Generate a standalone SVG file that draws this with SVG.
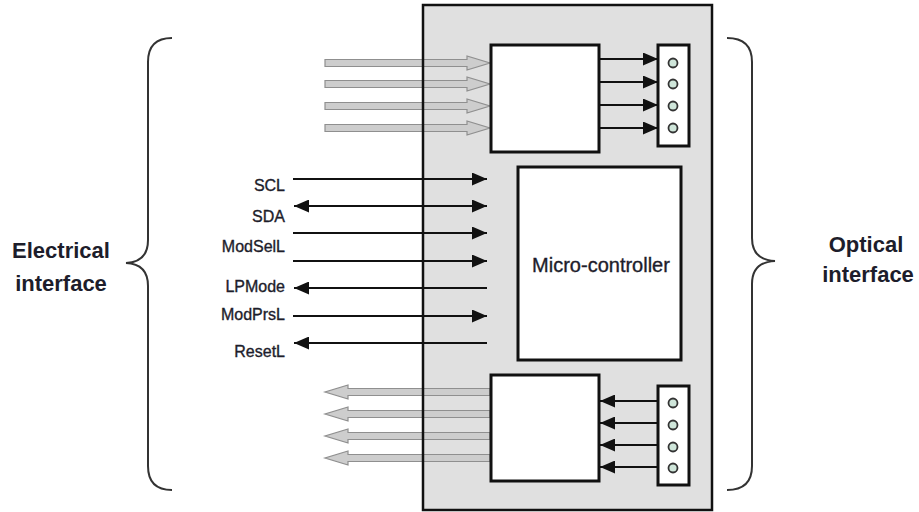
<svg xmlns="http://www.w3.org/2000/svg" width="919" height="512" viewBox="0 0 919 512">
<style>
.box{fill:#fff;stroke:#111;stroke-width:3}
.wire{stroke:#111;stroke-width:2;fill:none}
.garrow{fill:#cdcdcd;stroke:#8f8f8f;stroke-width:1.2}
.port{fill:#cfe6da;stroke:#333;stroke-width:1.8}
.sig{font-family:"Liberation Sans",Arial,sans-serif;font-size:16px;fill:#1d1d2b;stroke:#1d1d2b;stroke-width:0.35;text-anchor:end}
.big{font-family:"Liberation Sans",Arial,sans-serif;font-size:22px;font-weight:bold;fill:#1d1d2b;text-anchor:middle}
.brace{fill:none;stroke:#333;stroke-width:2}
</style>
<defs>
<marker id="ah" viewBox="0 0 15 13" refX="15" refY="6.5" markerWidth="15" markerHeight="13" markerUnits="userSpaceOnUse" orient="auto-start-reverse">
<path d="M0,0 L15,6.5 L0,13 Z" fill="#111"/>
</marker>
</defs>
<rect id="module-bg" x="423" y="5" width="289" height="505" fill="#e0e0e0"/>
<g id="connectors">
<polygon class="garrow" points="325,59.5 467,59.5 467,56 490,63 467,70 467,66.5 325,66.5"/>
<polygon class="garrow" points="325,80.5 467,80.5 467,77 490,84 467,91 467,87.5 325,87.5"/>
<polygon class="garrow" points="325,102.5 467,102.5 467,99 490,106 467,113 467,109.5 325,109.5"/>
<polygon class="garrow" points="325,124.5 467,124.5 467,121 490,128 467,135 467,131.5 325,131.5"/>
<polygon class="garrow" points="490,388.5 348,388.5 348,385 325,392 348,399 348,395.5 490,395.5"/>
<polygon class="garrow" points="490,410.5 348,410.5 348,407 325,414 348,421 348,417.5 490,417.5"/>
<polygon class="garrow" points="490,432.5 348,432.5 348,429 325,436 348,443 348,439.5 490,439.5"/>
<polygon class="garrow" points="490,454.5 348,454.5 348,451 325,458 348,465 348,461.5 490,461.5"/>
<line class="wire" x1="599" y1="59" x2="658" y2="59" marker-end="url(#ah)"/>
<line class="wire" x1="599" y1="82" x2="658" y2="82" marker-end="url(#ah)"/>
<line class="wire" x1="599" y1="105" x2="658" y2="105" marker-end="url(#ah)"/>
<line class="wire" x1="599" y1="128" x2="658" y2="128" marker-end="url(#ah)"/>
<line class="wire" x1="658" y1="401" x2="600" y2="401" marker-end="url(#ah)"/>
<line class="wire" x1="658" y1="423" x2="600" y2="423" marker-end="url(#ah)"/>
<line class="wire" x1="658" y1="445" x2="600" y2="445" marker-end="url(#ah)"/>
<line class="wire" x1="658" y1="467" x2="600" y2="467" marker-end="url(#ah)"/>
<line class="wire" x1="293" y1="179" x2="487" y2="179" marker-end="url(#ah)"/>
<line class="wire" x1="294" y1="206" x2="487" y2="206" marker-start="url(#ah)" marker-end="url(#ah)"/>
<line class="wire" x1="293" y1="233" x2="487" y2="233" marker-end="url(#ah)"/>
<line class="wire" x1="293" y1="261" x2="487" y2="261" marker-end="url(#ah)"/>
<line class="wire" x1="294" y1="288" x2="487" y2="288" marker-start="url(#ah)"/>
<line class="wire" x1="293" y1="316" x2="487" y2="316" marker-end="url(#ah)"/>
<line class="wire" x1="294" y1="343" x2="487" y2="343" marker-start="url(#ah)"/>
</g>
<g id="module">
<rect x="423" y="5" width="289" height="505" fill="none" stroke="#111" stroke-width="2.5"/>
</g>
<g id="tx-block"><rect class="box" x="491" y="45" width="108" height="107"/></g>
<g id="tx-port">
<rect class="box" x="658" y="45" width="31" height="101"/>
<circle class="port" cx="673" cy="63" r="4.5"/>
<circle class="port" cx="673" cy="84" r="4.5"/>
<circle class="port" cx="673" cy="106" r="4.5"/>
<circle class="port" cx="673" cy="128" r="4.5"/>
</g>
<g id="micro-controller">
<rect class="box" x="518" y="167" width="163" height="193"/>
<text x="601" y="272" font-family="Liberation Sans, Arial, sans-serif" font-size="20" fill="#1d1d2b" stroke="#1d1d2b" stroke-width="0.35" text-anchor="middle">Micro-controller</text>
</g>
<g id="rx-block"><rect class="box" x="491" y="375" width="108" height="106"/></g>
<g id="rx-port">
<rect class="box" x="658" y="386" width="31" height="99"/>
<circle class="port" cx="673" cy="403" r="4.5"/>
<circle class="port" cx="673" cy="425" r="4.5"/>
<circle class="port" cx="673" cy="447" r="4.5"/>
<circle class="port" cx="673" cy="468" r="4.5"/>
</g>
<g id="signal-labels">
<text class="sig" x="285" y="191">SCL</text>
<text class="sig" x="285" y="222">SDA</text>
<text class="sig" x="285" y="252">ModSelL</text>
<text class="sig" x="285" y="292">LPMode</text>
<text class="sig" x="285" y="320">ModPrsL</text>
<text class="sig" x="285" y="357">ResetL</text>
</g>
<g id="electrical-interface">
<path class="brace" d="M172,38 Q148,38 148,62 L148,240 Q148,262 126,263 Q148,264 148,286 L148,466 Q148,490 172,490"/>
<text class="big" x="61" y="258">Electrical</text>
<text class="big" x="61" y="291">interface</text>
</g>
<g id="optical-interface">
<path class="brace" d="M727,38 Q752,38 752,62 L752,238 Q752,260 775,261 Q752,262 752,284 L752,466 Q752,490 727,490"/>
<text class="big" x="866" y="252">Optical</text>
<text class="big" x="868" y="282">interface</text>
</g>
</svg>
